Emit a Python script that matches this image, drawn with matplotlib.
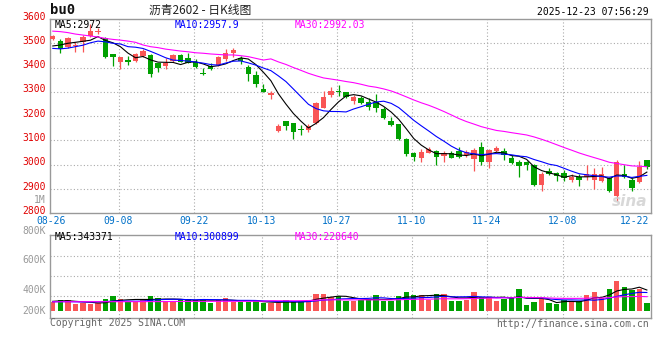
import numpy as np
import pandas as pd
import matplotlib
matplotlib.use("Agg")
import matplotlib.pyplot as plt
from matplotlib import transforms

# ---------------- data ----------------
date_idx = [0, 9, 19, 28, 38, 48, 58, 68, 78]
date_lbl = ["08-26", "09-08", "09-22", "10-13", "10-27", "11-10", "11-24", "12-08", "12-22"]
grid_idx = [9, 19, 28, 38, 48, 58, 68]

open_ = [3518, 3511, 3486, 3489, 3507, 3530, 3548, 3520, 3456, 3424,
         3431, 3427, 3448, 3452, 3420, 3408, 3427, 3452, 3441, 3424,
         3378, 3406, 3410, 3435, 3458, 3438, 3404, 3369, 3313, 3286,
         3139, 3180, 3172, 3146, 3142, 3170, 3235, 3287, 3302, 3298,
         3262, 3276, 3260, 3257, 3229, 3180, 3168, 3106, 3050, 3026,
         3050, 3057, 3036, 3050, 3057, 3040, 3022, 3072, 3010, 3058,
         3057, 3029, 3013, 3010, 2999, 2917, 2974, 2965, 2965, 2937,
         2951, 2948, 2937, 2933, 2947, 2873, 2961, 2937, 2928, 3020]
high = [3534, 3518, 3524, 3507, 3534, 3580, 3562, 3524, 3456, 3445,
        3449, 3458, 3476, 3455, 3420, 3440, 3455, 3455, 3459, 3435,
        3400, 3417, 3449, 3476, 3482, 3449, 3411, 3385, 3331, 3304,
        3166, 3180, 3172, 3164, 3168, 3257, 3305, 3321, 3328, 3301,
        3287, 3283, 3273, 3293, 3239, 3198, 3168, 3109, 3054, 3065,
        3075, 3061, 3057, 3057, 3071, 3061, 3068, 3092, 3065, 3077,
        3068, 3040, 3020, 3016, 3002, 2971, 2985, 2972, 2979, 2961,
        2961, 2998, 2985, 2992, 2951, 3020, 2999, 2947, 3015, 3020]
low = [3513, 3461, 3479, 3463, 3465, 3527, 3540, 3438, 3408, 3393,
       3412, 3424, 3445, 3362, 3380, 3396, 3424, 3421, 3417, 3397,
       3370, 3389, 3406, 3427, 3442, 3413, 3345, 3321, 3298, 3271,
       3133, 3143, 3106, 3122, 3136, 3166, 3232, 3280, 3284, 3276,
       3249, 3249, 3224, 3218, 3187, 3160, 3102, 3036, 3015, 3012,
       3047, 2999, 3010, 3027, 3027, 3033, 2976, 2999, 2988, 3054,
       3020, 3002, 2951, 2979, 2912, 2893, 2958, 2931, 2931, 2927,
       2912, 2937, 2900, 2930, 2889, 2852, 2944, 2893, 2924, 2982]
close = [3530, 3476, 3520, 3491, 3524, 3552, 3550, 3442, 3442, 3443,
         3421, 3454, 3468, 3372, 3397, 3417, 3452, 3424, 3420, 3404,
         3375, 3395, 3445, 3458, 3472, 3428, 3373, 3331, 3301, 3297,
         3159, 3161, 3136, 3143, 3158, 3253, 3280, 3304, 3299, 3280,
         3280, 3255, 3239, 3235, 3191, 3164, 3106, 3046, 3033, 3054,
         3065, 3030, 3047, 3029, 3030, 3054, 3061, 3010, 3062, 3070,
         3040, 3006, 2996, 2999, 2917, 2962, 2960, 2955, 2947, 2951,
         2937, 2961, 2961, 2961, 2892, 3013, 2951, 2903, 2992, 2989]
volume_k = [152, 179, 179, 114, 125, 114, 125, 196, 245, 196,
            152, 152, 196, 245, 212, 168, 152, 179, 196, 179,
            196, 136, 179, 212, 152, 152, 152, 163, 136, 125,
            125, 179, 152, 163, 179, 277, 277, 234, 245, 163,
            163, 179, 179, 261, 163, 163, 245, 310, 261, 261,
            179, 277, 277, 168, 168, 179, 310, 223, 234, 163,
            196, 228, 359, 98, 147, 196, 130, 114, 179, 163,
            163, 261, 310, 212, 359, 489, 391, 342, 359, 130]

# moving-average values before enough history exists
ma5_head = [3489, 3493, 3500, 3504]
ma10_head = [3479, 3477, 3480, 3486, 3492, 3502, 3509, 3506, 3500]
ma30_head = [3550, 3548, 3544, 3538, 3534, 3530, 3526, 3520, 3516, 3513,
             3509, 3504, 3493, 3486, 3482, 3476, 3472, 3468, 3465, 3461,
             3459, 3456, 3454, 3452, 3452, 3449, 3445, 3438, 3431]
vma5_head = [158, 165, 168, 158]
vma10_head = [150, 152, 153, 150, 148, 147, 150, 155, 160]
vma30_head = [150, 150, 151, 151, 151, 152, 152, 152, 152, 152,
              152, 152, 153, 153, 153, 153, 155, 156, 156, 157,
              157, 157, 158, 158, 158, 158, 158, 159, 160]

price_ticks = [2800, 2900, 3000, 3100, 3200, 3300, 3400, 3500, 3600]
vol_labels = ["1M", "800K", "600K", "400K", "200K"]

# ---------------- derived ----------------
n = len(close)
x = np.arange(n)
o = np.array(open_, float); c = np.array(close, float)
hi = np.array(high, float); lo = np.array(low, float)
vol = np.array(volume_k, float) * 1000


def ma(series, w, head):
    m = pd.Series(series).rolling(w).mean().to_numpy()
    m[:len(head)] = head
    return m


ma5 = ma(c, 5, ma5_head)
ma10 = ma(c, 10, ma10_head)
ma30 = ma(c, 30, ma30_head)
vma5 = ma(vol, 5, np.array(vma5_head) * 1000)
vma10 = ma(vol, 10, np.array(vma10_head) * 1000)
vma30 = ma(vol, 30, np.array(vma30_head) * 1000)

RED = "#f95555"
GREEN = "#00a000"
GRID = "#aaaaaa"
BORDER = "#999999"
MONO = "DejaVu Sans Mono"
FS = 7

W, H = 660, 360
fig = plt.figure(figsize=(6.6, 3.6), dpi=100)
fig.patch.set_facecolor("white")


def fx(px):
    return px / W


def fy(py):
    return 1 - py / H


L, R = 50, 651
ax = fig.add_axes([fx(L), fy(213.3), (R - L) / W, (213.3 - 19) / H])
axv = fig.add_axes([fx(L), fy(318.3), (R - L) / W, (318.3 - 234.7) / H], sharex=ax)

for a in (ax, axv):
    a.set_xlim(-0.37, 79.55)
    a.set_xticks([]); a.set_yticks([])
    for s in a.spines.values():
        s.set_color(BORDER); s.set_linewidth(1.0)
    a.tick_params(length=0)

ax.set_ylim(2800, 3600)
axv.set_ylim(-119e3, 1244e3)

dot = (0, (1, 2))
# grids
ax.hlines(price_ticks[1:-1], -0.37, 79.55, colors=GRID, linestyles=dot, lw=0.8, zorder=0)
for gi in grid_idx:
    ax.axvline(gi - 0.2, color=GRID, ls=dot, lw=0.8, zorder=0)
    axv.axvline(gi - 0.2, color=GRID, ls=dot, lw=0.8, zorder=0)
for f in (0.745, 0.506, 0.267):
    axv.plot([0, 1], [f, f], transform=axv.transAxes, color=GRID, ls=dot, lw=0.8, zorder=0)

# candles
up = c >= o
cols = np.where(up, RED, GREEN)
ax.vlines(x, lo, hi, colors=cols, lw=0.9, zorder=2)
body_h = np.maximum(np.abs(c - o), 4.5)
body_b = np.minimum(o, c)
ax.bar(x, body_h, bottom=body_b, width=0.72, color=cols, linewidth=0, zorder=3)

ax.plot(x, ma5, color="black", lw=0.8, zorder=4)
ax.plot(x, ma10, color="#0000ff", lw=0.8, zorder=4)
ax.plot(x, ma30, color="#ff00ff", lw=0.8, zorder=4)

# volume
axv.bar(x, vol, width=0.72, color=cols, linewidth=0, zorder=2)
axv.plot(x, vma5, color="black", lw=0.8, zorder=4)
axv.plot(x, vma10, color="#0000ff", lw=0.8, zorder=4)
axv.plot(x, vma30, color="#ff00ff", lw=0.8, zorder=4)

# price labels
tr_y = transforms.blended_transform_factory(ax.transAxes, ax.transData) + \
    transforms.ScaledTranslation(-4 / 100, 2.5 / 100, fig.dpi_scale_trans)
for p in price_ticks:
    ax.text(0, p, str(p), transform=tr_y, ha="right", va="center",
            color="#e00000", family=MONO, fontsize=FS, clip_on=False)

# date labels
for di, dl in zip(date_idx, date_lbl):
    dx = -2 if di != 78 else -4.5
    tr_x = transforms.blended_transform_factory(ax.transData, ax.transAxes) + \
        transforms.ScaledTranslation(dx / 100, -7.7 / 100, fig.dpi_scale_trans)
    ax.text(di, 0, dl, transform=tr_x, ha="center", va="center",
            color="#0070c8", family=MONO, fontsize=FS, clip_on=False)

# volume labels (as positioned in the reference)
for lbl, py in zip(vol_labels, [200, 231, 260, 290, 311]):
    fig.text(fx(46), fy(py), lbl, ha="right", va="center", color="#999999",
             family=MONO, fontsize=FS)

# legends
fig.text(fx(55), fy(24.5), "MA5:2972", color="black", family=MONO, fontsize=FS, va="center")
fig.text(fx(175), fy(24.5), "MA10:2957.9", color="#0000ff", family=MONO, fontsize=FS, va="center")
fig.text(fx(295), fy(24.5), "MA30:2992.03", color="#ff00ff", family=MONO, fontsize=FS, va="center")
fig.text(fx(55), fy(237.5), "MA5:343371", color="black", family=MONO, fontsize=FS, va="center")
fig.text(fx(175), fy(237.5), "MA10:300899", color="#0000ff", family=MONO, fontsize=FS, va="center")
fig.text(fx(295), fy(237.5), "MA30:228640", color="#ff00ff", family=MONO, fontsize=FS, va="center")

# header
fig.text(fx(50), fy(10.5), "bu0", family=MONO, weight="bold", fontsize=10, va="center", color="#111111")
fig.text(fx(200), fy(10), "沥青2602 - 日K线图", family=["Noto Sans CJK SC", "DejaVu Sans"],
         fontsize=8.5, ha="center", va="center", color="#222222")
fig.text(fx(649), fy(12.3), "2025-12-23 07:56:29", family=MONO, fontsize=FS,
         ha="right", va="center", color="black")

# footer
fig.text(fx(50), fy(323.5), "Copyright 2025 SINA.COM", family=MONO, fontsize=FS,
         va="center", color="#666666")
fig.text(fx(649), fy(324), "http://finance.sina.com.cn", family=MONO, fontsize=FS,
         ha="right", va="center", color="#666666")

# watermark
fig.text(fx(630), fy(202), "sina", family="DejaVu Sans", style="italic", weight="bold",
         fontsize=11, ha="center", va="center", color="#cfcfcf", alpha=0.8)

fig.savefig("out.png", dpi=100)
